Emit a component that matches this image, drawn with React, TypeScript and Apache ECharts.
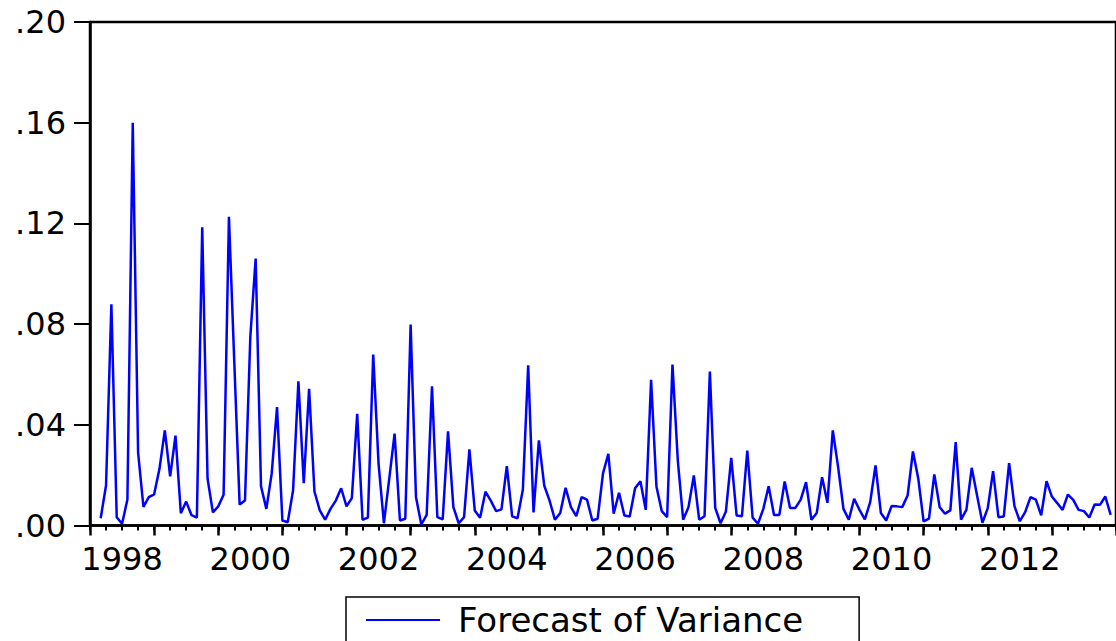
import React, { useEffect, useRef } from "react";
import * as echarts from "echarts";

// Monthly forecast of variance (plotted from 1998M03 to 2013M12)
const v1998 = [0.0029, 0.0159, 0.0879, 0.0033, 0.0007, 0.0103, 0.16, 0.0289, 0.0074, 0.0113]; // Mar-Dec
const v1999 = [0.0124, 0.0225, 0.0378, 0.0195, 0.0357, 0.0049, 0.0095, 0.0041, 0.0031, 0.1185, 0.0186, 0.0052];
const v2000 = [0.0076, 0.0122, 0.1226, 0.065, 0.0083, 0.0099, 0.0749, 0.106, 0.0156, 0.0066, 0.0206, 0.047];
const v2001 = [0.002, 0.0013, 0.0139, 0.0573, 0.0168, 0.0543, 0.0135, 0.006, 0.0023, 0.0066, 0.0099, 0.0148];
const v2002 = [0.0076, 0.0109, 0.0444, 0.0023, 0.0031, 0.0679, 0.0245, 0.0009, 0.0186, 0.0365, 0.002, 0.0027];
const v2003 = [0.0798, 0.0113, 0.0004, 0.0042, 0.0553, 0.0033, 0.0024, 0.0374, 0.0073, 0.0009, 0.0033, 0.0302];
const v2004 = [0.006, 0.0031, 0.0134, 0.0099, 0.0057, 0.0064, 0.0236, 0.0036, 0.0029, 0.0142, 0.0636, 0.0052];
const v2005 = [0.0338, 0.0159, 0.0099, 0.0023, 0.005, 0.015, 0.0073, 0.0037, 0.0113, 0.0103, 0.002, 0.0027];
const v2006 = [0.0207, 0.0285, 0.0047, 0.013, 0.004, 0.0036, 0.0148, 0.0176, 0.0062, 0.0579, 0.0155, 0.0057];
const v2007 = [0.0033, 0.0639, 0.0258, 0.0023, 0.0073, 0.0199, 0.0023, 0.0037, 0.0612, 0.007, 0.0009, 0.0056];
const v2008 = [0.0269, 0.004, 0.0037, 0.0298, 0.0031, 0.0007, 0.0066, 0.0156, 0.0042, 0.0042, 0.0175, 0.007];
const v2009 = [0.007, 0.0103, 0.0172, 0.0023, 0.005, 0.0192, 0.009, 0.0378, 0.0232, 0.0066, 0.0023, 0.0106];
const v2010 = [0.0062, 0.0024, 0.0093, 0.0239, 0.005, 0.002, 0.0077, 0.0076, 0.0073, 0.0119, 0.0294, 0.0186];
const v2011 = [0.0016, 0.0027, 0.0203, 0.0073, 0.0047, 0.006, 0.0331, 0.0023, 0.0062, 0.0229, 0.0119, 0.0011];
const v2012 = [0.0069, 0.0216, 0.0033, 0.0036, 0.0248, 0.0077, 0.0017, 0.0053, 0.0113, 0.0103, 0.004, 0.0176];
const v2013 = [0.0115, 0.0089, 0.0062, 0.0123, 0.0102, 0.0062, 0.0057, 0.0032, 0.0083, 0.0082, 0.0115, 0.0042];

const yearTickLabels = ["1998", "2000", "2002", "2004", "2006", "2008", "2010", "2012"];
const yTickLabels = [".00", ".04", ".08", ".12", ".16", ".20"];
const seriesName = "Forecast of Variance";

// month categories 1998M01 .. 2014M01
const months: string[] = [];
for (let y = 1998; y <= 2013; y++) {
  for (let m = 1; m <= 12; m++) months.push(`${y}M${String(m).padStart(2, "0")}`);
}
months.push("2014M01");

const variance: (number | null)[] = [
  null,
  null,
  ...v1998,
  ...v1999,
  ...v2000,
  ...v2001,
  ...v2002,
  ...v2003,
  ...v2004,
  ...v2005,
  ...v2006,
  ...v2007,
  ...v2008,
  ...v2009,
  ...v2010,
  ...v2011,
  ...v2012,
  ...v2013,
  null,
];

const FONT = "DejaVu Sans";

export default function App() {
  const ref = useRef<HTMLDivElement>(null);

  useEffect(() => {
    document.body.style.margin = "0";
    if (!ref.current) return;
    const chart = echarts.init(ref.current, null, { renderer: "svg" });
    chart.setOption({
      animation: false,
      backgroundColor: "#ffffff",
      grid: {
        left: 90,
        right: -3,
        top: 22,
        bottom: 115.5,
        show: true,
        borderColor: "#000",
        borderWidth: 2.5,
        containLabel: false,
      },
      legend: {
        data: [seriesName],
        left: 346,
        top: 597,
        orient: "horizontal",
        icon: "rect",
        itemWidth: 74,
        itemHeight: 2,
        borderColor: "#000",
        borderWidth: 1.5,
        padding: [6, 56, 30, 20],
        textStyle: {
          fontFamily: FONT,
          fontSize: 34,
          color: "#000",
          padding: [0, 0, 0, 13],
        },
      },
      xAxis: [
        {
          type: "category",
          data: months,
          boundaryGap: false,
          position: "bottom",
          axisLine: { show: true, lineStyle: { color: "#000", width: 2.5 } },
          axisTick: {
            show: true,
            interval: (idx: number) => idx % 3 === 0,
            length: 5,
            lineStyle: { color: "#000", width: 2 },
          },
          axisLabel: {
            show: true,
            interval: (idx: number) => idx % 24 === 6,
            formatter: (_v: string, idx: number) => yearTickLabels[(idx - 6) / 24] ?? "",
            fontFamily: FONT,
            fontSize: 32,
            color: "#000",
            margin: 17,
          },
          splitLine: { show: false },
        },
        {
          type: "category",
          data: months,
          boundaryGap: false,
          position: "bottom",
          axisLine: { show: false },
          axisTick: {
            show: true,
            interval: (idx: number) => idx % 12 === 0,
            length: 10,
            lineStyle: { color: "#000", width: 2.5 },
          },
          axisLabel: { show: false },
          splitLine: { show: false },
        },
      ],
      yAxis: {
        type: "value",
        min: 0,
        max: 0.2,
        interval: 0.04,
        axisLine: { show: true, lineStyle: { color: "#000", width: 2.5 } },
        axisTick: { show: true, length: 16, lineStyle: { color: "#000", width: 2 } },
        axisLabel: {
          formatter: (v: number) => yTickLabels[Math.round(v / 0.04)] ?? "",
          fontFamily: FONT,
          fontSize: 32,
          color: "#000",
          margin: 24,
        },
        splitLine: { show: false },
      },
      series: [
        {
          name: seriesName,
          type: "line",
          data: variance,
          xAxisIndex: 0,
          yAxisIndex: 0,
          showSymbol: false,
          symbol: "none",
          connectNulls: false,
          lineStyle: { color: "#0000ff", width: 2.5 },
          itemStyle: { color: "#0000ff" },
        },
      ],
    });
    return () => chart.dispose();
  }, []);

  return <div ref={ref} style={{ width: 1116, height: 641 }} />;
}
